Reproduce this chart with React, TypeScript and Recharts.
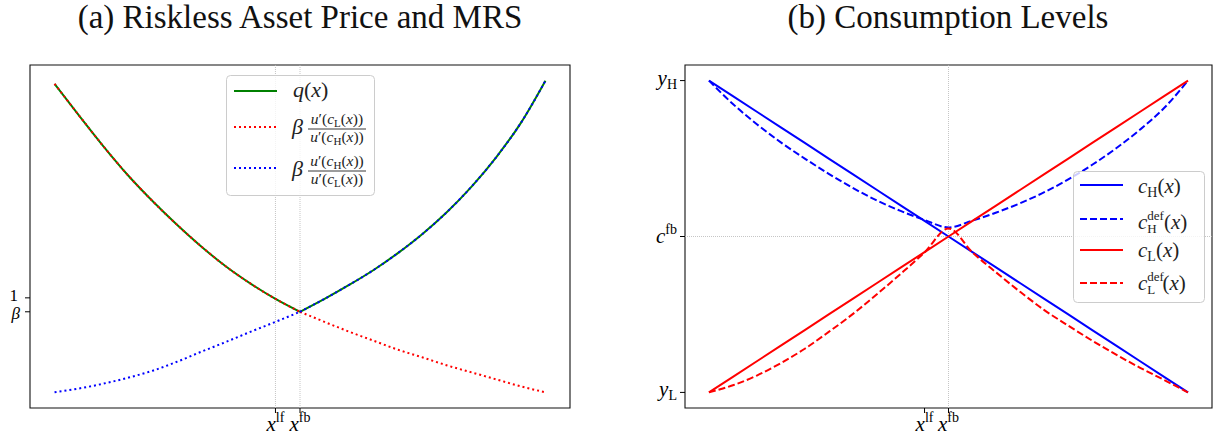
import React from 'react';
import { LineChart, Line, XAxis, YAxis, ReferenceLine, ReferenceArea } from 'recharts';

const FONT = "'Liberation Serif', 'DejaVu Serif', serif";

// ---------- shared x grid ----------
const xGrid = [0, 0.05, 0.1, 0.15, 0.2, 0.25, 0.3, 0.35, 0.4, 0.45, 0.5, 0.55, 0.6, 0.65, 0.7, 0.75, 0.8, 0.85, 0.9, 0.95, 1.0];
const X_LF = 0.45;
const X_FB = 0.5;

// ---------- panel (a): riskless asset price and MRS ----------
const BETA = 0.96;
// q(x) on x in [0, 0.5] and [0.5, 1]
const qLeft = [1.614, 1.523, 1.434, 1.351, 1.277, 1.209, 1.146, 1.089, 1.04, 0.997, 0.96];
const qRight = [0.96, 0.997, 1.037, 1.08, 1.129, 1.184, 1.247, 1.32, 1.404, 1.502, 1.623];
// beta u'(cL)/u'(cH) for x in [0.5, 1] (equals q on the left)
const mrsLHRight = [0.96, 0.931, 0.903, 0.877, 0.851, 0.829, 0.806, 0.786, 0.766, 0.746, 0.729];
// beta u'(cH)/u'(cL) for x in [0, 0.5] (equals q on the right)
const mrsHLLeft = [0.729, 0.74, 0.754, 0.771, 0.791, 0.817, 0.846, 0.874, 0.903, 0.931, 0.96];
const yDomainA: [number, number] = [0.684, 1.668];

// ---------- panel (b): consumption levels ----------
const Y_L = 0;
const C_FB = 0.5;
const Y_H = 1;
const cH = [1, 0.95, 0.9, 0.85, 0.8, 0.75, 0.7, 0.65, 0.6, 0.55, 0.5, 0.45, 0.4, 0.35, 0.3, 0.25, 0.2, 0.15, 0.1, 0.05, 0];
const cL = [0, 0.05, 0.1, 0.15, 0.2, 0.25, 0.3, 0.35, 0.4, 0.45, 0.5, 0.55, 0.6, 0.65, 0.7, 0.75, 0.8, 0.85, 0.9, 0.95, 1];
const cHdef = [1.0, 0.925, 0.86, 0.802, 0.75, 0.701, 0.656, 0.616, 0.582, 0.553, 0.529, 0.551, 0.577, 0.607, 0.642, 0.683, 0.73, 0.783, 0.843, 0.912, 1.0];
const cLdef = [0, 0.023, 0.054, 0.094, 0.14, 0.194, 0.251, 0.314, 0.38, 0.449, 0.526, 0.449, 0.384, 0.322, 0.264, 0.214, 0.166, 0.121, 0.079, 0.04, 0];
const yDomainB: [number, number] = [-0.05, 1.05];
const xDomain: [number, number] = [-0.05, 1.05];

const rowsA = xGrid.map((x, i) => ({
  x,
  qL: i <= 10 ? qLeft[i] : null,
  qR: i >= 10 ? qRight[i - 10] : null,
  redR: i >= 10 ? mrsLHRight[i - 10] : null,
  blueL: i <= 10 ? mrsHLLeft[i] : null,
}));

const rowsB = xGrid.map((x, i) => ({ x, cH: cH[i], cHdef: cHdef[i], cL: cL[i], cLdef: cLdef[i] }));

const GREEN = '#008000';
const RED = '#ff0000';
const BLUE = '#0000ff';
const LW = 2;
const DOT = '2 3';
const DASH = '7 3';

const XTick = (props: any) => {
  const { x, y, payload } = props;
  const sup = payload.value === X_LF ? 'lf' : 'fb';
  return (
    <text x={x} y={y + 16} textAnchor="middle" fontFamily={FONT} fontSize={21} fill="#000">
      <tspan fontStyle="italic">x</tspan>
      <tspan fontSize={14} dy={-9}>{sup}</tspan>
    </text>
  );
};

const YTickA = (props: any) => {
  const { x, y, payload } = props;
  if (payload.value === BETA) {
    return (
      <text x={x - 3} y={y + 7} textAnchor="end" fontFamily={FONT} fontSize={17} fontStyle="italic" fill="#000">β</text>
    );
  }
  return (
    <text x={x - 5} y={y + 3} textAnchor="end" fontFamily={FONT} fontSize={17} fill="#000">1</text>
  );
};

const YTickB = (props: any) => {
  const { x, y, payload } = props;
  const v = payload.value;
  if (v === C_FB) {
    return (
      <text x={x - 1} y={y + 6} textAnchor="end" fontFamily={FONT} fontSize={21} fill="#000">
        <tspan fontStyle="italic">c</tspan>
        <tspan fontSize={14} dy={-9}>fb</tspan>
      </text>
    );
  }
  const sub = v === Y_H ? 'H' : 'L';
  return (
    <text x={x - 1} y={y + 4} textAnchor="end" fontFamily={FONT} fontSize={21} fill="#000">
      <tspan fontStyle="italic">y</tspan>
      <tspan fontSize={14} dy={4}>{sub}</tspan>
    </text>
  );
};

const Frac = ({ cx, bar, inner }: { cx: number; bar: number; inner: [string, string] }) => {
  const part = (sub: string, base: number) => (
    <text x={cx} y={base} textAnchor="middle" fontFamily={FONT} fontSize={15.5} fill="#222">
      <tspan fontStyle="italic">u</tspan>
      <tspan>′(</tspan>
      <tspan fontStyle="italic">c</tspan>
      <tspan fontSize={11} dy={3}>{sub}</tspan>
      <tspan dy={-3}>(</tspan>
      <tspan fontStyle="italic">x</tspan>
      <tspan>))</tspan>
    </text>
  );
  return (
    <g>
      {part(inner[0], bar - 5)}
      <line x1={cx - 29} x2={cx + 29} y1={bar} y2={bar} stroke="#222" strokeWidth={0.9} />
      {part(inner[1], bar + 13)}
    </g>
  );
};

const LegendA = () => (
  <svg width={150} height={122} style={{ position: 'absolute', left: 226, top: 75 }}>
    <rect x={0.5} y={0.5} width={148} height={120} rx={4} fill="#fff" fillOpacity={0.8} stroke="#cccccc" />
    <line x1={8} x2={51} y1={16} y2={16} stroke={GREEN} strokeWidth={LW} />
    <text x={67} y={22} fontFamily={FONT} fontSize={22} fill="#222">
      <tspan fontStyle="italic">q</tspan>
      <tspan>(</tspan>
      <tspan fontStyle="italic">x</tspan>
      <tspan>)</tspan>
    </text>
    <line x1={8} x2={51} y1={52} y2={52} stroke={RED} strokeWidth={LW} strokeDasharray={DOT} />
    <text x={66} y={59} fontFamily={FONT} fontSize={22} fontStyle="italic" fill="#222">β</text>
    <Frac cx={111} bar={54} inner={['L', 'H']} />
    <line x1={8} x2={51} y1={93} y2={93} stroke={BLUE} strokeWidth={LW} strokeDasharray={DOT} />
    <text x={66} y={101} fontFamily={FONT} fontSize={22} fontStyle="italic" fill="#222">β</text>
    <Frac cx={111} bar={96} inner={['H', 'L']} />
  </svg>
);

const CLabel = ({ y, sub, def }: { y: number; sub: string; def?: boolean }) => (
  <text x={65} y={y} fontFamily={FONT} fontSize={21} fill="#222">
    <tspan fontStyle="italic">c</tspan>
    {def ? (
      <>
        <tspan fontSize={13} dy={-9}>def</tspan>
        <tspan fontSize={13} dx={-16.6} dy={13}>{sub}</tspan>
        <tspan dx={7.2} dy={-4}>(</tspan>
      </>
    ) : (
      <>
        <tspan fontSize={14} dy={4}>{sub}</tspan>
        <tspan dy={-4}>(</tspan>
      </>
    )}
    <tspan fontStyle="italic">x</tspan>
    <tspan>)</tspan>
  </text>
);

const LegendB = () => (
  <svg width={133} height={133} style={{ position: 'absolute', left: 1073, top: 171 }}>
    <rect x={0.5} y={0.5} width={131} height={131} rx={4} fill="#fff" fillOpacity={0.8} stroke="#cccccc" />
    <line x1={7} x2={50} y1={14} y2={14} stroke={BLUE} strokeWidth={LW} />
    <CLabel y={22} sub="H" />
    <line x1={7} x2={50} y1={48} y2={48} stroke={BLUE} strokeWidth={LW} strokeDasharray={DASH} />
    <CLabel y={58} sub="H" def />
    <line x1={7} x2={50} y1={79} y2={79} stroke={RED} strokeWidth={LW} />
    <CLabel y={86} sub="L" />
    <line x1={7} x2={50} y1={112} y2={112} stroke={RED} strokeWidth={LW} strokeDasharray={DASH} />
    <CLabel y={119} sub="L" def />
  </svg>
);

const titleStyle = (cx: number): React.CSSProperties => ({
  position: 'absolute',
  left: cx - 300,
  width: 600,
  top: -2,
  textAlign: 'center',
  fontFamily: FONT,
  fontSize: 33,
  lineHeight: '38px',
  color: '#111',
  whiteSpace: 'nowrap',
});

const lineProps = { dot: false, activeDot: false, isAnimationActive: false, connectNulls: false } as const;

export default function App() {
  return (
    <div style={{ position: 'absolute', left: 0, top: 0, width: 1217, height: 440, background: '#fff', overflow: 'hidden' }}>
      <div style={titleStyle(300)}>(a) Riskless Asset Price and MRS</div>
      <div style={titleStyle(948)}>(b) Consumption Levels</div>

      <div style={{ position: 'absolute', left: 0, top: 0 }}>
        <LineChart width={580} height={440} data={rowsA} margin={{ top: 65, right: 10, bottom: 0, left: 0 }}>
          <XAxis dataKey="x" type="number" domain={xDomain} ticks={[X_LF, X_FB]} interval={0} tick={<XTick />} tickSize={5} height={32} axisLine={false} tickLine={{ stroke: '#000' }} />
          <YAxis type="number" domain={yDomainA} ticks={[BETA, 1]} interval={0} tick={<YTickA />} tickSize={5} width={30} axisLine={false} tickLine={{ stroke: '#000' }} />
          <ReferenceLine x={X_LF} stroke="#b8b8b8" strokeWidth={0.8} strokeDasharray="1 1" />
          <ReferenceLine x={X_FB} stroke="#b8b8b8" strokeWidth={0.8} strokeDasharray="1 1" />
          <Line {...lineProps} type="monotone" dataKey="qL" stroke={GREEN} strokeWidth={LW} />
          <Line {...lineProps} type="monotone" dataKey="qR" stroke={GREEN} strokeWidth={LW} />
          <Line {...lineProps} type="monotone" dataKey="qL" stroke={RED} strokeWidth={LW} strokeDasharray={DOT} />
          <Line {...lineProps} type="monotone" dataKey="redR" stroke={RED} strokeWidth={LW} strokeDasharray={DOT} />
          <Line {...lineProps} type="monotone" dataKey="blueL" stroke={BLUE} strokeWidth={LW} strokeDasharray={DOT} />
          <Line {...lineProps} type="monotone" dataKey="qR" stroke={BLUE} strokeWidth={LW} strokeDasharray={DOT} />
          <ReferenceArea x1={xDomain[0]} x2={xDomain[1]} y1={yDomainA[0]} y2={yDomainA[1]} fill="none" stroke="#111" strokeWidth={1.1} ifOverflow="visible" />
        </LineChart>
      </div>

      <div style={{ position: 'absolute', left: 640, top: 0 }}>
        <LineChart width={577} height={440} data={rowsB} margin={{ top: 65, right: 5, bottom: 0, left: 0 }}>
          <XAxis dataKey="x" type="number" domain={xDomain} ticks={[X_LF, X_FB]} interval={0} tick={<XTick />} tickSize={5} height={32} axisLine={false} tickLine={{ stroke: '#000' }} />
          <YAxis type="number" domain={yDomainB} ticks={[Y_L, C_FB, Y_H]} interval={0} tick={<YTickB />} tickSize={5} width={45} axisLine={false} tickLine={{ stroke: '#000' }} />
          <ReferenceLine x={X_FB} stroke="#b8b8b8" strokeWidth={0.8} strokeDasharray="1 1" />
          <ReferenceLine y={C_FB} stroke="#b8b8b8" strokeWidth={0.8} strokeDasharray="1 1" />
          <Line {...lineProps} type="linear" dataKey="cH" stroke={BLUE} strokeWidth={LW} />
          <Line {...lineProps} type="monotone" dataKey="cHdef" stroke={BLUE} strokeWidth={LW} strokeDasharray={DASH} />
          <Line {...lineProps} type="linear" dataKey="cL" stroke={RED} strokeWidth={LW} />
          <Line {...lineProps} type="monotone" dataKey="cLdef" stroke={RED} strokeWidth={LW} strokeDasharray={DASH} />
          <ReferenceArea x1={xDomain[0]} x2={xDomain[1]} y1={yDomainB[0]} y2={yDomainB[1]} fill="none" stroke="#111" strokeWidth={1.1} ifOverflow="visible" />
        </LineChart>
      </div>

      <LegendA />
      <LegendB />
    </div>
  );
}
